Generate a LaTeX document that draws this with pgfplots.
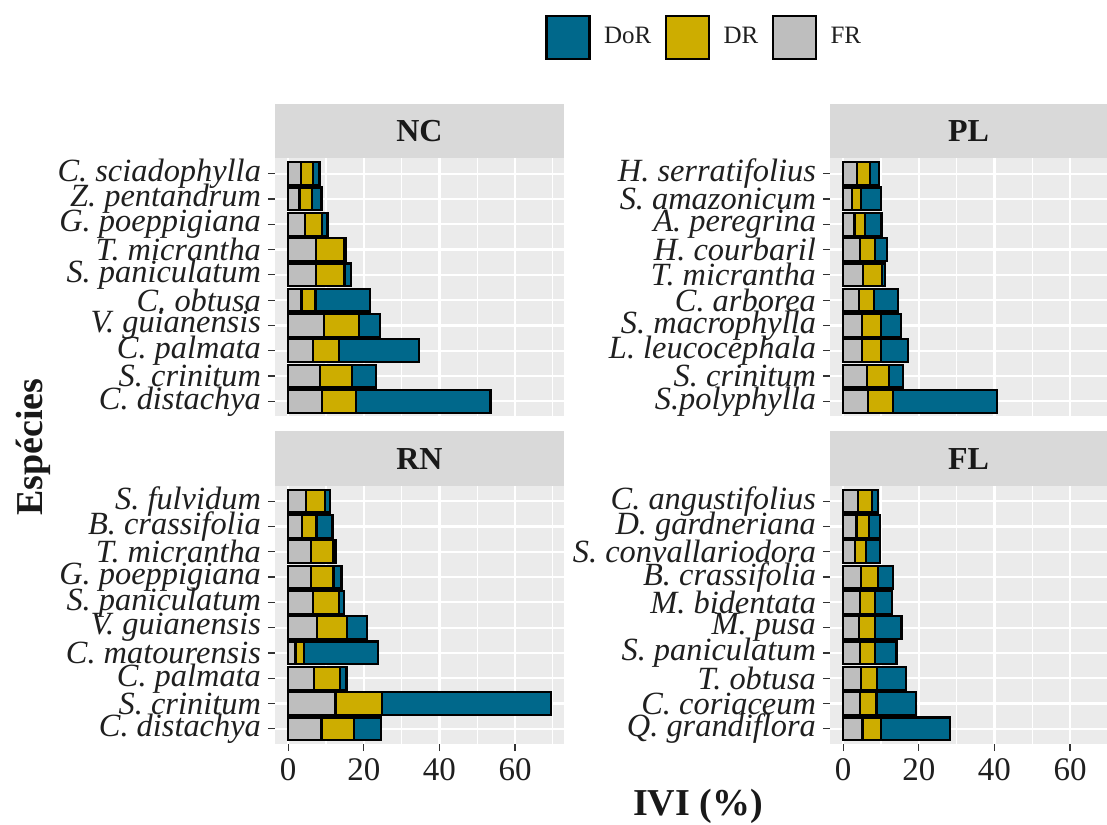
\documentclass[border=0pt]{standalone}
\usepackage{pgfplots}
\usepackage{pgfplotstable}
\usepackage{fontspec}
\setmainfont{Liberation Serif}
\pgfplotsset{compat=1.18}
\definecolor{dor}{HTML}{00688B}
\definecolor{dr}{HTML}{CDAD00}
\definecolor{fr}{HTML}{BEBEBE}
\definecolor{panelbg}{HTML}{EBEBEB}
\definecolor{stripbg}{HTML}{D9D9D9}

% y = 1 is the bottom category
\pgfplotstableread{
y FR DR DoR
1 8.9 9.0 35.6
2 8.3 8.6 6.4
3 6.6 6.8 21.2
4 9.4 9.3 5.5
5 3.5 3.7 14.4
6 7.4 7.5 1.8
7 7.4 7.5 0.3
8 4.5 4.5 1.4
9 3.0 3.2 2.6
10 3.3 3.35 1.6
}\tblNC
\pgfplotstableread{
y FR DR DoR
1 6.6 6.5 27.5
2 6.2 5.9 3.8
3 4.9 5.0 7.3
4 4.9 5.0 5.4
5 4.1 4.0 6.3
6 5.3 5.0 0.8
7 4.4 4.1 3.0
8 3.0 2.7 4.4
9 2.4 2.2 5.4
10 3.7 3.4 2.4
}\tblPL
\pgfplotstableread{
y FR DR DoR
1 8.8 8.5 7.2
2 12.5 12.4 44.7
3 6.8 7.0 1.6
4 1.9 2.2 19.7
5 7.7 7.9 5.3
6 6.6 6.8 1.3
7 6.0 6.0 2.1
8 6.0 6.0 0.7
9 3.7 3.8 4.2
10 4.8 5.0 1.3
}\tblRN
\pgfplotstableread{
y FR DR DoR
1 5.1 4.8 18.3
2 4.4 4.4 10.4
3 4.6 4.4 7.6
4 4.4 4.0 5.7
5 4.2 4.1 7.1
6 4.4 4.0 4.5
7 4.8 4.4 3.9
8 3.1 2.9 3.8
9 3.5 3.4 2.8
10 3.8 3.9 1.6
}\tblFL

\pgfplotsset{
  panel/.style={
    scale only axis, height=129pt,
    xmin=-3.5, ymin=0.4, ymax=10.6,
    xbar stacked, bar width=0.9,
    axis background/.style={fill=panelbg},
    axis line style={draw=none},
    grid=both,
    major grid style={white, line width=1.1pt},
    minor grid style={white, line width=0.55pt},
    xtick={0,20,40,60}, minor xtick={10,30,50,70},
    ytick={1,...,10},
    tick align=outside, major tick length=3.5pt, minor tick length=0pt,
    tick style={black!80, line width=0.6pt},
    xtick pos=bottom, ytick pos=left,
    yticklabel style={font=\fontsize{16.2}{16.2}\selectfont\itshape, text=black!88},
    xticklabel style={font=\fontsize{16.5}{16.5}\selectfont, text=black!88},
    /pgf/number format/assume math mode=true,
    every axis title/.style={at={(0.5,1)}, anchor=south, fill=stripbg,
      minimum height=27.25pt, inner sep=0pt, outer sep=0pt,
      font=\fontsize{16}{16}\selectfont\bfseries, text=black!90},
  },
  leftpanel/.style={panel, width=144.5pt, xmax=72.96,
    title style={minimum width=144.5pt}},
  rightpanel/.style={panel, width=138.5pt, xmax=69.78,
    title style={minimum width=138.5pt}},
  toprow/.style={xticklabels={}, xtick style={draw=none}},
  barFR/.style={fill=fr, draw=black, line width=1.1pt},
  barDR/.style={fill=dr, draw=black, line width=1.1pt},
  barDoR/.style={fill=dor, draw=black, line width=1.1pt},
}

\begin{document}
\begin{tikzpicture}
\useasboundingbox (0,0) rectangle (553.5pt,412pt);

% NC
\begin{axis}[leftpanel, toprow, at={(137.5pt,203.75pt)}, anchor=south west,
  title={NC},
  yticklabels={C. distachya, S. crinitum, C. palmata, V. guianensis, C. obtusa,
    S. paniculatum, T. micrantha, G. poeppigiana, Z. pentandrum, C. sciadophylla},
  legend style={at={(1.505,1.47)}, anchor=center, draw=none, fill=none,
    legend columns=3, column sep=0pt, inner sep=0pt,
    nodes={inner xsep=6.7pt, inner ysep=0pt,
      font=\fontsize{12.5}{12.5}\selectfont, text=black!88}},
  legend image code/.code={\draw[#1, line width=1.2pt] (0pt,-10.75pt) rectangle (21.5pt,10.75pt);},
  reverse legend]
\addplot[barFR] table[x=FR, y=y] {\tblNC};
\addplot[barDR] table[x=DR, y=y] {\tblNC};
\addplot[barDoR] table[x=DoR, y=y] {\tblNC};
\legend{FR, DR, DoR}
\end{axis}

% PL
\begin{axis}[rightpanel, toprow, at={(415pt,203.75pt)}, anchor=south west,
  title={PL},
  yticklabels={S.polyphylla, S. crinitum, L. leucocephala, S. macrophylla, C. arborea,
    T. micrantha, H. courbaril, A. peregrina, S. amazonicum, H. serratifolius}]
\addplot[barFR] table[x=FR, y=y] {\tblPL};
\addplot[barDR] table[x=DR, y=y] {\tblPL};
\addplot[barDoR] table[x=DoR, y=y] {\tblPL};
\end{axis}

% RN
\begin{axis}[leftpanel, at={(137.5pt,40pt)}, anchor=south west,
  title={RN},
  yticklabels={C. distachya, S. crinitum, C. palmata, C. matourensis, V. guianensis,
    S. paniculatum, G. poeppigiana, T. micrantha, B. crassifolia, S. fulvidum}]
\addplot[barFR] table[x=FR, y=y] {\tblRN};
\addplot[barDR] table[x=DR, y=y] {\tblRN};
\addplot[barDoR] table[x=DoR, y=y] {\tblRN};
\end{axis}

% FL
\begin{axis}[rightpanel, at={(415pt,40pt)}, anchor=south west,
  title={FL},
  yticklabels={Q. grandiflora, C. coriaceum, T. obtusa, S. paniculatum, M. pusa,
    M. bidentata, B. crassifolia, S. convallariodora, D. gardneriana, C. angustifolius}]
\addplot[barFR] table[x=FR, y=y] {\tblFL};
\addplot[barDR] table[x=DR, y=y] {\tblFL};
\addplot[barDoR] table[x=DoR, y=y] {\tblFL};
\end{axis}

\node[rotate=90, font=\fontsize{19}{19}\selectfont\bfseries, text=black!90] at (16.5pt,188.5pt) {Espécies};
\node[font=\fontsize{19}{19}\selectfont\bfseries, text=black!90] at (349pt,9pt) {IVI (\%)};
\end{tikzpicture}
\end{document}
